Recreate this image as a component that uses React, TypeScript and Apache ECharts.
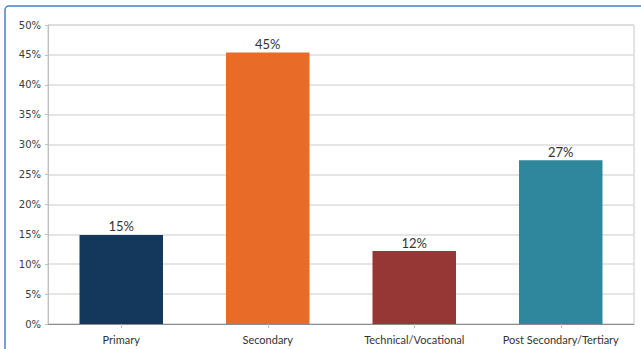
import React, { useEffect, useRef } from "react";
import * as echarts from "echarts";

const categories = ["Primary", "Secondary", "Technical/Vocational", "Post Secondary/Tertiary"];
const shares = [14.9, 45.4, 12.2, 27.4];
const barColors = ["#14375C", "#E66C27", "#963635", "#2E879C"];

export default function App() {
  const ref = useRef<HTMLDivElement>(null);

  useEffect(() => {
    if (!ref.current) return;
    const chart = echarts.init(ref.current, null, { renderer: "svg" });
    chart.setOption({
      animation: false,
      backgroundColor: "#FFFFFF",
      grid: {
        left: 48,
        right: 7,
        top: 25,
        bottom: 25,
        show: true,
        borderColor: "#C8C8C8",
        borderWidth: 1,
      },
      graphic: [
        {
          type: "rect",
          shape: { x: 5, y: 6, width: 700, height: 400, r: 4 },
          style: { fill: "none", stroke: "#4A7EC8", lineWidth: 1.5 },
          silent: true,
          z: 100,
        },
      ],
      xAxis: {
        type: "category",
        data: categories,
        axisLine: { show: true, lineStyle: { color: "#8C8C8C", width: 1 } },
        axisTick: { show: true, alignWithLabel: true, length: 4, lineStyle: { color: "#BFBFBF" } },
        axisLabel: {
          interval: 0,
          margin: 10,
          fontFamily: "Lato",
          fontSize: 11,
          color: "#333333",
        },
      },
      yAxis: {
        type: "value",
        min: 0,
        max: 50,
        interval: 5,
        axisLine: { show: true, lineStyle: { color: "#BFBFBF" } },
        axisTick: { show: true, length: 3, lineStyle: { color: "#BFBFBF" } },
        splitLine: { show: true, lineStyle: { color: "#DCDCDC", width: 1.5 } },
        axisLabel: {
          margin: 7,
          fontFamily: "DejaVu Sans",
          fontSize: 10,
          color: "#3A3A3A",
          formatter: (v: number) => `${v}%`,
        },
      },
      series: [
        {
          type: "bar",
          barWidth: "57%",
          data: shares.map((v, i) => ({ value: v, itemStyle: { color: barColors[i] } })),
          label: {
            show: true,
            position: "top",
            distance: 2,
            fontFamily: "Lato",
            fontSize: 13,
            color: "#333333",
            formatter: (p: any) => `${Math.round(p.value)}%`,
          },
        },
      ],
    });
    return () => chart.dispose();
  }, []);

  return (
    <div
      ref={ref}
      style={{ position: "fixed", left: 0, top: 0, width: 641, height: 349 }}
    />
  );
}
